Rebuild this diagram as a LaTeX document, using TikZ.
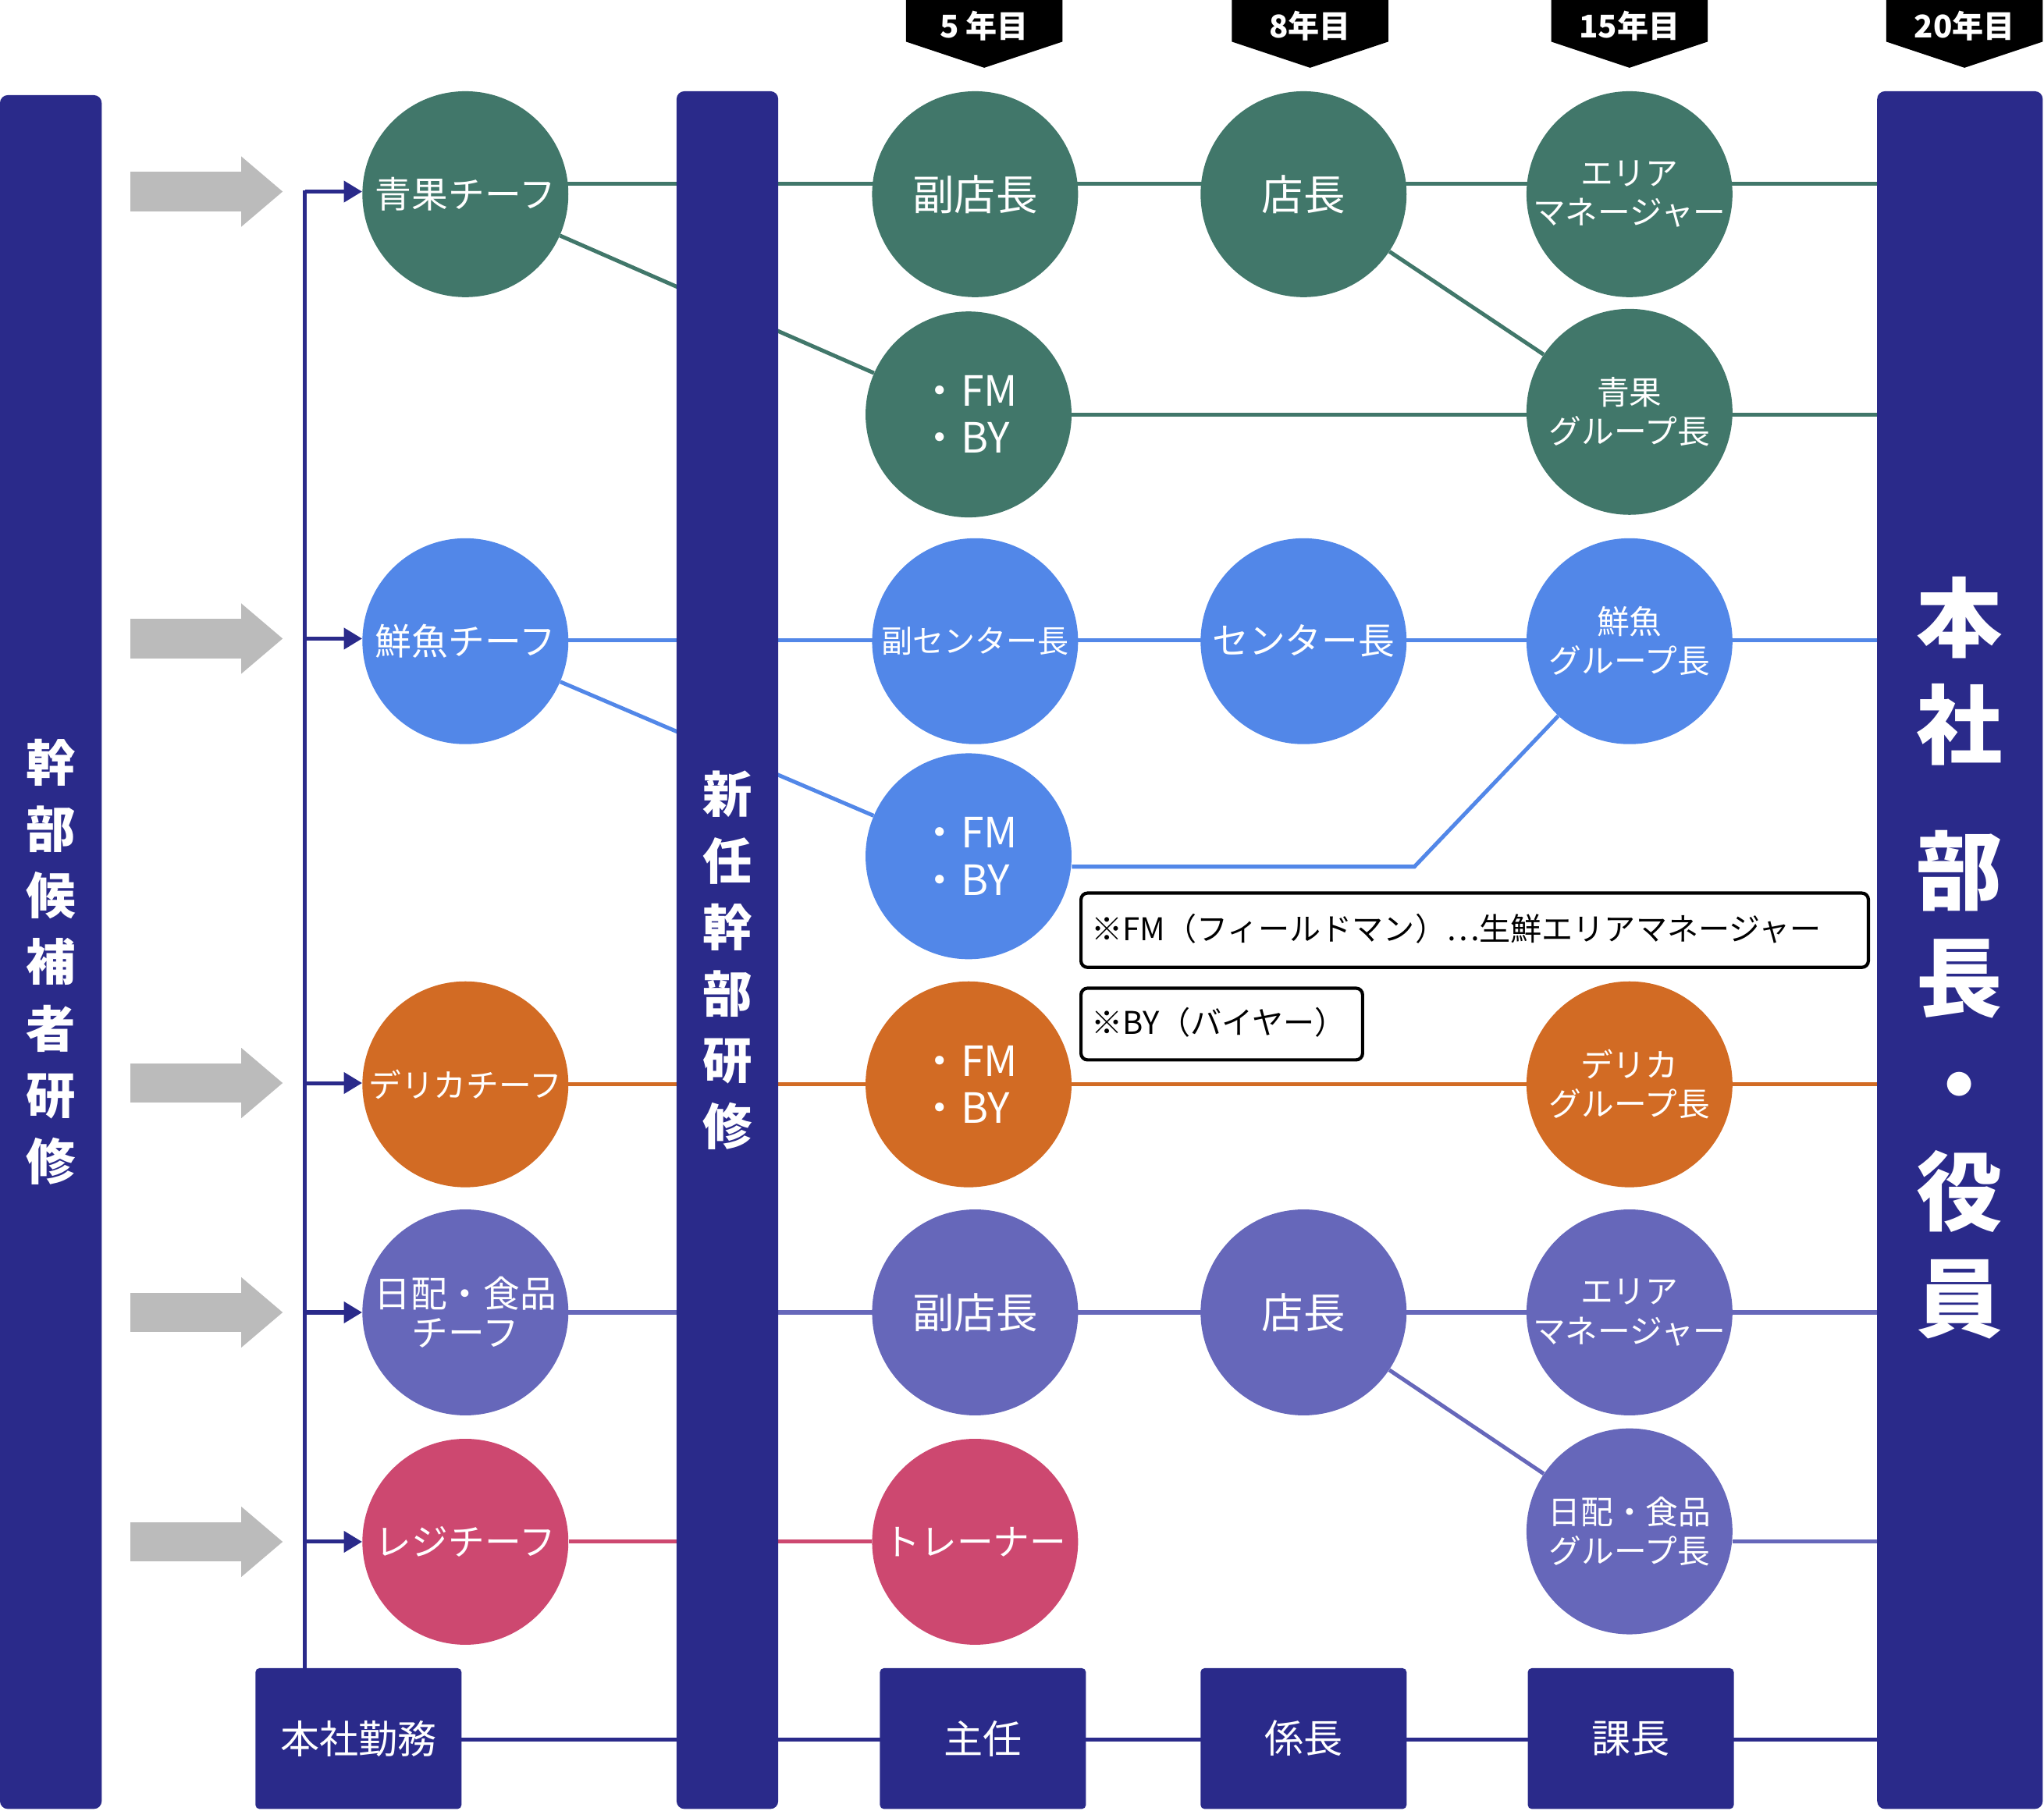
\documentclass[tikz,border=0pt]{standalone}
\usepackage{fontspec}
\setmainfont{Noto Sans CJK JP}
\usetikzlibrary{arrows.meta}
\pgfdeclarelayer{bg}
\pgfsetlayers{bg,main}
\definecolor{navy}{HTML}{2A2A8A}
\definecolor{cg}{HTML}{41776A}
\definecolor{cb}{HTML}{5287E8}
\definecolor{co}{HTML}{D26B24}
\definecolor{cp}{HTML}{6667BA}
\definecolor{cr}{HTML}{CD4870}
\definecolor{gr}{HTML}{BBBBBB}
\tikzset{
 c/.style={circle,minimum size=158pt,inner sep=0pt,text=white,align=center,font=\fontsize{28}{30}\selectfont},
 cs/.style={c,font=\fontsize{25}{30}\selectfont},
 fm/.style={c,align=left,font=\fontsize{32}{36}\selectfont},
 bar/.style={fill=navy,rounded corners=6pt},
 box/.style={fill=navy,rounded corners=3pt,minimum width=158pt,minimum height=108pt,text=white,font=\fontsize{30}{32}\selectfont},
 ln/.style={line width=3pt},
 note/.style={draw=black,line width=2.5pt,rounded corners=5pt,fill=white,inner sep=0pt,anchor=north west},
 notet/.style={font=\fontsize{24}{26}\selectfont,anchor=west,inner sep=0pt},
 vt/.style={text=white,align=center,font=\bfseries\fontsize{38}{51}\selectfont},
 ga/.style={gr,line width=30pt,-{Triangle[length=32pt,width=52pt]}},
 na/.style={navy,line width=3pt,-{Triangle[length=14pt,width=16pt]}},
 bant/.style={text=white,font=\bfseries\fontsize{24}{26}\selectfont}
}
\newcommand{\banner}[3]{%
 \fill (#1-60,0) -- (#1+60,0) -- (#1+60,32) -- (#1,52) -- (#1-60,32) -- cycle;
 \node[bant] (#3) at (#1,20) {#2};}
\begin{document}
\begin{tikzpicture}[x=1pt,y=-1pt]
\useasboundingbox (0,0) rectangle (1568,1389);
\node[c,fill=cg] (g1) at (357,149) {青果チーフ};
\node[c,fill=cg] (g2) at (748,149) {\fontsize{32}{34}\selectfont 副店長};
\node[c,fill=cg] (g3) at (1000,149) {\fontsize{32}{34}\selectfont 店長};
\node[cs,fill=cg] (g4) at (1250,149) {エリア\\マネージャー};
\node[fm,fill=cg] (g5) at (743,318) {・FM\\・BY};
\node[cs,fill=cg] (g6) at (1250,316) {青果\\グループ長};
\node[c,fill=cb] (b1) at (357,492) {鮮魚チーフ};
\node[c,fill=cb] (b2) at (748,492) {\fontsize{24}{26}\selectfont 副センター長};
\node[c,fill=cb] (b3) at (1000,492) {センター長};
\node[cs,fill=cb] (b4) at (1250,492) {鮮魚\\グループ長};
\node[fm,fill=cb] (b5) at (743,657) {・FM\\・BY};
\node[c,fill=co] (o1) at (357,832) {\fontsize{25}{27}\selectfont デリカチーフ};
\node[fm,fill=co] (o2) at (743,832) {・FM\\・BY};
\node[cs,fill=co] (o3) at (1250,832) {デリカ\\グループ長};
\node[c,fill=cp] (p1) at (357,1007) {日配・食品\\チーフ};
\node[c,fill=cp] (p2) at (748,1007) {\fontsize{32}{34}\selectfont 副店長};
\node[c,fill=cp] (p3) at (1000,1007) {\fontsize{32}{34}\selectfont 店長};
\node[cs,fill=cp] (p4) at (1250,1007) {エリア\\マネージャー};
\node[cs,fill=cp] (p5) at (1250,1175) {日配・食品\\グループ長};
\node[c,fill=cr] (r1) at (357,1183) {レジチーフ};
\node[c,fill=cr] (r2) at (748,1183) {トレーナー};
\node[box] (k1) at (275,1334) {本社勤務};
\node[box] (k2) at (754,1334) {主任};
\node[box] (k3) at (1000,1334) {係長};
\node[box] (k4) at (1251,1334) {課長};
% bars
\fill[bar] (0,73) rectangle (78,1388);
\fill[bar] (519,70) rectangle (597,1388);
\fill[bar] (1440,70) rectangle (1567,1388);
\node[vt] (t1) at (39,738) {幹\\部\\候\\補\\者\\研\\修};
\node[vt] (t2) at (558,737) {新\\任\\幹\\部\\研\\修};
\node[vt,font=\bfseries\fontsize{66}{82}\selectfont] (t3) at (1503,735) {本\\社\\[30pt]部\\長\\・\\役\\員};
\coordinate (R1) at (1440,141);
\coordinate (R2) at (1440,318);
\coordinate (R3) at (1440,491);
\coordinate (R4) at (1440,832);
\coordinate (R5) at (1440,1007);
\coordinate (R6) at (1440,1183);
\coordinate (R7) at (1440,1335);
\coordinate (BK) at (1085,665);
\begin{pgfonlayer}{bg}
\draw[ln,cg] (g1.center |- R1) -- (R1);
\draw[ln,cg] (g1) -- (g5);
\draw[ln,cg] (g3) -- (g6);
\draw[ln,cg] (g5.center |- R2) -- (R2);
\draw[ln,cb] (b1.center |- R3) -- (R3);
\draw[ln,cb] (b1) -- (b5);
\draw[ln,cb] (b5.east |- BK) -- (BK) -- (b4);
\draw[ln,co] (o1.center |- R4) -- (R4);
\draw[ln,cp] (p1.center |- R5) -- (R5);
\draw[ln,cp] (p3) -- (p5);
\draw[ln,cp] (p5.east |- R6) -- (R6);
\draw[ln,cr] (r1) -- (r2);
\draw[ln,navy] (k1.center |- R7) -- (R7);
\end{pgfonlayer}
% arrows
\coordinate (T) at (234,1280);
\foreach \y/\n in {147/g1,490/b1,831/o1,1007/p1,1183/r1}{
 \draw[ga] (100,\y) -- (217,\y);
 \draw[na] (234,\y) -- (\n.west |- 0,\y);
}
\draw[navy,line width=3pt] (k1.north -| T) -- (234,146);
% banners
\banner{755}{5 年目}{y1}
\banner{1005}{8年目}{y2}
\banner{1250}{15年目}{y3}
\banner{1507}{20年目}{y4}
% notes
\node[note,minimum width=604pt,minimum height=57pt] (n1) at (828,684) {};
\node[notet] (n1t) at (837,712.5) {※FM（フィールドマン）⋯生鮮エリアマネージャー};
\node[note,minimum width=216pt,minimum height=55pt] (n2) at (828,757) {};
\node[notet] (n2t) at (837,784.5) {※BY（バイヤー）};
\end{tikzpicture}
\end{document}
